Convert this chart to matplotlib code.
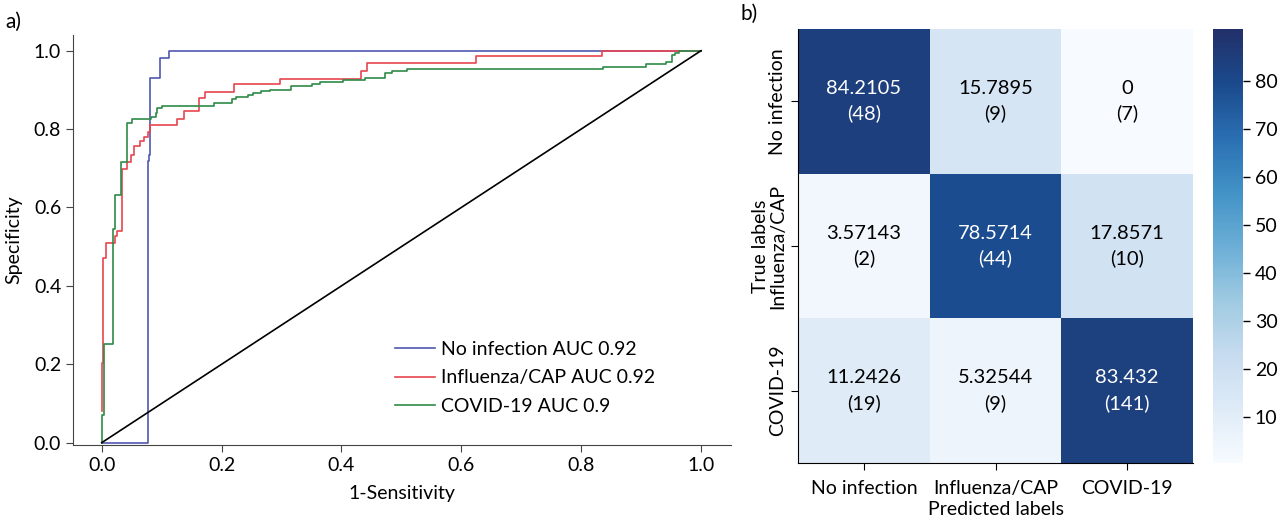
import matplotlib
matplotlib.use("Agg")
import matplotlib.pyplot as plt
import numpy as np
from matplotlib.colors import LinearSegmentedColormap

plt.rcParams["font.family"] = ["Lato", "DejaVu Sans"]
plt.rcParams["font.size"] = 14

# ROC curves (steps-post corners: fpr, tpr at top of each vertical jump)
blue_fpr = [0.0, 0.0767, 0.079, 0.081, 0.0967, 0.113, 1.0]
blue_tpr = [0.0, 0.719, 0.735, 0.931, 0.982, 1.0, 1.0]

red_fpr = [0.0, 0.0, 0.0028, 0.0067, 0.022, 0.026, 0.0333, 0.042, 0.049, 0.0544,
           0.064, 0.071, 0.0767, 0.0806, 0.125, 0.138, 0.163, 0.173, 0.221,
           0.298, 0.433, 0.442, 0.625, 0.835, 1.0]
red_tpr = [0.082, 0.2025, 0.47, 0.509, 0.527, 0.54, 0.698, 0.717, 0.734, 0.757,
           0.770, 0.78, 0.793, 0.81, 0.825, 0.845, 0.879, 0.895, 0.914,
           0.928, 0.949, 0.969, 0.987, 1.0, 1.0]

green_fpr = [0.0, 0.0, 0.004, 0.0183, 0.022, 0.032, 0.042, 0.051, 0.082, 0.09,
             0.093, 0.1, 0.188, 0.218, 0.2245, 0.244, 0.253, 0.265, 0.28, 0.315,
             0.351, 0.364, 0.402, 0.4385, 0.472, 0.485, 0.51, 0.836, 0.908,
             0.942, 0.952, 0.957, 0.963, 1.0]
green_tpr = [0.0, 0.071, 0.252, 0.544, 0.632, 0.715, 0.815, 0.826, 0.832, 0.84,
             0.855, 0.86, 0.867, 0.876, 0.881, 0.886, 0.891, 0.896, 0.899, 0.909,
             0.916, 0.92, 0.925, 0.931, 0.942, 0.947, 0.9525, 0.959, 0.966,
             0.972, 0.989, 0.995, 1.0, 1.0]

roc_labels = ["No infection AUC 0.92", "Influenza/CAP AUC 0.92", "COVID-19 AUC 0.9"]

# confusion matrix
classes = ["No infection", "Influenza/CAP", "COVID-19"]
pct = np.array([[84.2105, 15.7895, 0],
                [3.57143, 78.5714, 17.8571],
                [11.2426, 5.32544, 83.432]])
counts = np.array([[48, 9, 7],
                   [2, 44, 10],
                   [19, 9, 141]])

W, H = 1280, 525
fig = plt.figure(figsize=(W / 100, H / 100), dpi=100)

# ---- panel a
ax = fig.add_axes([73 / W, (H - 445) / H, (731 - 73) / W, (445 - 35) / H])
ax.plot(blue_fpr, blue_tpr, drawstyle="steps-post", color="#5058b0", lw=1.2, label=roc_labels[0])
ax.plot(red_fpr, red_tpr, drawstyle="steps-post", color="#e8454f", lw=1.2, label=roc_labels[1])
ax.plot(green_fpr, green_tpr, drawstyle="steps-post", color="#2e8b47", lw=1.2, label=roc_labels[2])
ax.plot([0, 1], [0, 1], color="black", lw=1.2)
ax.set_xlim(-0.048, 1.05)
ax.set_ylim(-0.006, 1.04)
ticks = [0.0, 0.2, 0.4, 0.6, 0.8, 1.0]
ax.set_xticks(ticks)
ax.set_yticks(ticks)
ax.set_xticklabels([f"{t:.1f}" for t in ticks])
ax.set_yticklabels([f"{t:.1f}" for t in ticks])
for s in ["top", "right"]:
    ax.spines[s].set_visible(False)
for s in ["left", "bottom"]:
    ax.spines[s].set_color("#444444")
ax.tick_params(direction="out", length=5, color="#444444")
ax.set_xlabel("1-Sensitivity", labelpad=8)
ax.set_ylabel("Specificity", labelpad=8)
ax.legend(loc="center left", bbox_to_anchor=(377 / W, (H - 378) / H),
          bbox_transform=fig.transFigure, frameon=False,
          handlelength=2.1, handletextpad=0.3, labelspacing=0.58)
fig.text(5 / W, (H - 22) / H, "a)", fontsize=15, va="center")

# ---- panel b
cmap = LinearSegmentedColormap.from_list(
    "blues_ref", ["#f7fbff", "#deebf7", "#c6dbef", "#9ecae1", "#6baed6",
                  "#4292c6", "#2a6fb2", "#1a4a8c", "#22306a"])
hx = fig.add_axes([798 / W, (H - 463) / H, (1193 - 798) / W, (463 - 29) / H])
mesh = hx.pcolormesh(pct, cmap=cmap, vmin=0.5, vmax=90.8)
hx.set_xlim(0, 3)
hx.set_ylim(3, 0)
for i in range(3):
    for j in range(3):
        c = "white" if pct[i, j] > 50 else "black"
        hx.text(j + 0.5, i + 0.5, f"{pct[i, j]:g}\n({counts[i, j]})",
                ha="center", va="center", color=c, fontsize=14.5, linespacing=1.5)
hx.set_xticks([0.5, 1.5, 2.5])
hx.set_yticks([0.5, 1.5, 2.5])
hx.set_xticklabels(classes)
hx.set_yticklabels(classes, rotation=90, va="center")
for s in ["top", "right"]:
    hx.spines[s].set_visible(False)
hx.tick_params(direction="out", length=5)
hx.tick_params(axis="x", pad=7)
hx.set_xlabel("Predicted labels", labelpad=3)
hx.set_ylabel("True labels", labelpad=0)
fig.text(740 / W, (H - 14) / H, "b)", fontsize=15, va="center")

cax = fig.add_axes([1213 / W, (H - 463) / H, 30 / W, (463 - 29) / H])
cb = fig.colorbar(mesh, cax=cax, ticks=[10, 20, 30, 40, 50, 60, 70, 80])
cb.outline.set_visible(False)
cax.tick_params(length=5, width=1)

fig.savefig("out.png", dpi=100)
